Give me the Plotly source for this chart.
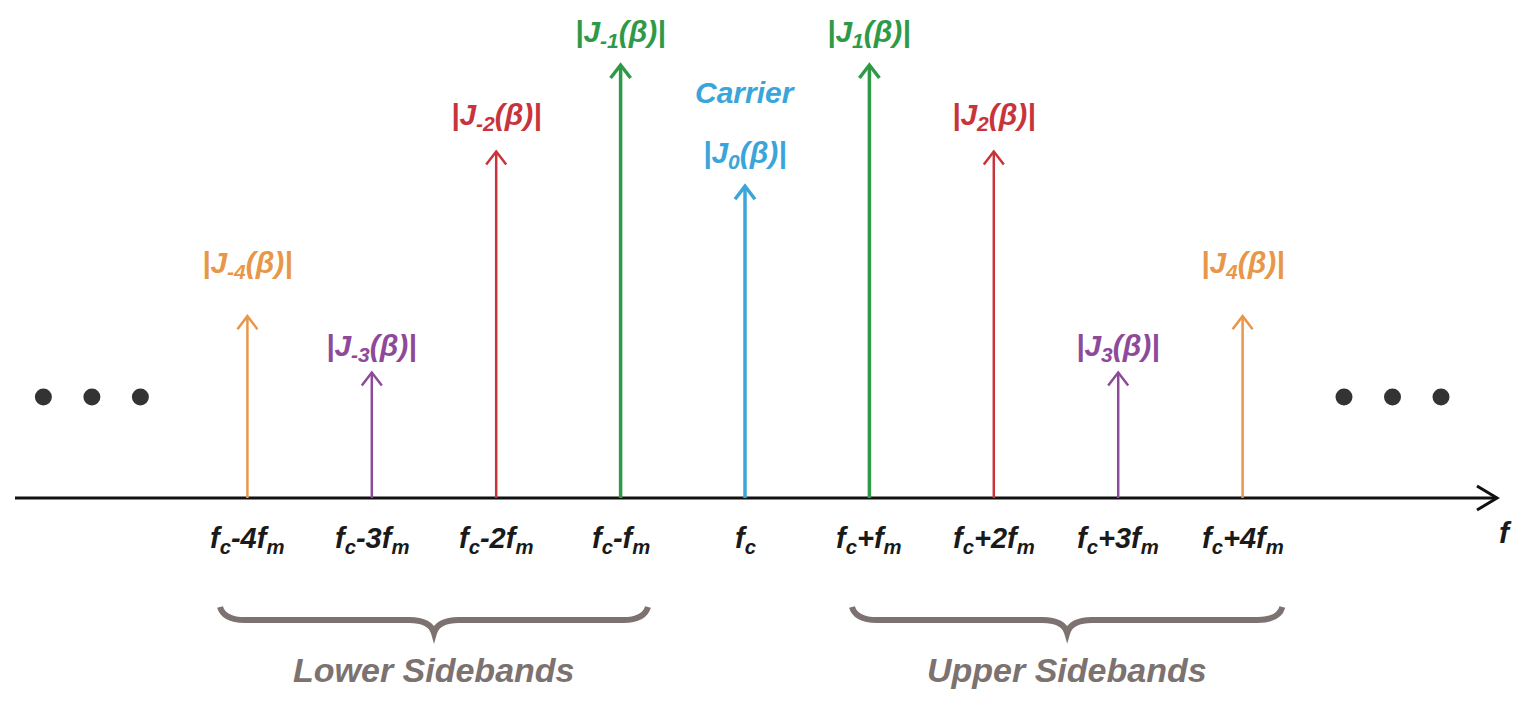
import plotly.graph_objects as go

# ---- data ----
orders = [-4, -3, -2, -1, 0, 1, 2, 3, 4]
amplitudes = [0.42, 0.29, 0.80, 1.0, 0.72, 1.0, 0.80, 0.29, 0.42]
tick_labels = ["f<sub>c</sub>-4f<sub>m</sub>", "f<sub>c</sub>-3f<sub>m</sub>", "f<sub>c</sub>-2f<sub>m</sub>",
               "f<sub>c</sub>-f<sub>m</sub>", "f<sub>c</sub>", "f<sub>c</sub>+f<sub>m</sub>",
               "f<sub>c</sub>+2f<sub>m</sub>", "f<sub>c</sub>+3f<sub>m</sub>", "f<sub>c</sub>+4f<sub>m</sub>"]
bessel_labels = ["|J<sub>-4</sub>(β)|", "|J<sub>-3</sub>(β)|", "|J<sub>-2</sub>(β)|", "|J<sub>-1</sub>(β)|",
                 "|J<sub>0</sub>(β)|", "|J<sub>1</sub>(β)|", "|J<sub>2</sub>(β)|", "|J<sub>3</sub>(β)|",
                 "|J<sub>4</sub>(β)|"]
lower_orders = [-4, -3, -2, -1]
upper_orders = [1, 2, 3, 4]
group_labels = ["Lower Sidebands", "Upper Sidebands"]

# ---- styles ----
color_by_abs = {4: "#E8974A", 3: "#8E4A9A", 2: "#C8343C", 1: "#2E9A48", 0: "#3AA5DA"}
width_by_abs = {4: 2.5, 3: 2.5, 2: 2.5, 1: 3.5, 0: 3.5}
label_shift = {4: 52, 3: 25, 2: 35, 1: 32, 0: 32}
group_pads = [(0.22, 0.22), (0.14, 0.32)]
brace_color = "#7C7270"
FONT = "Liberation Sans, Arial, sans-serif"

W, H = 1516, 698          # page has 8px body margin
PPX, PPY = 124.4, 433.0   # pixels per unit
CX, BY = 737, 490         # figure pixel of order 0 and of baseline
X_RANGE = [-CX / PPX, (W - CX) / PPX]
Y_RANGE = [-(H - BY) / PPY, BY / PPY]

def px_to_x(p):  # page pixel -> data x
    return X_RANGE[0] + (p - 8) / PPX

fig = go.Figure()

# horizontal frequency axis with arrow
ax_x0, ax_x1 = px_to_x(15), px_to_x(1497)
fig.add_trace(go.Scatter(x=[ax_x0, ax_x1], y=[0, 0], mode="lines",
                         line=dict(color="#111111", width=3), hoverinfo="skip", showlegend=False))
hx, hy = 20 / PPX, 12 / PPY
fig.add_trace(go.Scatter(x=[ax_x1 - hx, ax_x1, ax_x1 - hx], y=[hy, 0, -hy], mode="lines",
                         line=dict(color="#111111", width=3), hoverinfo="skip", showlegend=False))

# spectral lines with arrowheads
for k, a, lab, tl in zip(orders, amplitudes, bessel_labels, tick_labels):
    c = color_by_abs[abs(k)]
    w = width_by_abs[abs(k)]
    fig.add_trace(go.Scatter(x=[k, k], y=[0, a], mode="lines", line=dict(color=c, width=w),
                             hoverinfo="skip", showlegend=False))
    dx, dy = 10 / PPX, 13 / PPY
    fig.add_trace(go.Scatter(x=[k - dx, k, k + dx], y=[a - dy, a, a - dy], mode="lines",
                             line=dict(color=c, width=w), hoverinfo="skip", showlegend=False))
    fig.add_annotation(x=k, y=a, text="<b><i>" + lab + "</i></b>", showarrow=False,
                       yanchor="middle", yshift=label_shift[abs(k)],
                       font=dict(family=FONT, size=30, color=c))
    fig.add_annotation(x=k, y=0, text="<b><i>" + tl + "</i></b>",
                       showarrow=False, yanchor="middle", yshift=-42,
                       font=dict(family=FONT, size=29, color="#1a1a1a"))
    if k == 0:
        fig.add_annotation(x=k, y=a, text="<b><i>Carrier</i></b>", showarrow=False,
                           yanchor="middle", yshift=94,
                           font=dict(family=FONT, size=30, color=c))

# ellipsis dots
dot_y = (498 - 397) / PPY
sp = 48.5 / PPX
left_x = [orders[0] - 1.64 + i * sp for i in range(3)]
right_x = [orders[-1] + 0.815 + i * sp for i in range(3)]
fig.add_trace(go.Scatter(x=left_x + right_x, y=[dot_y] * 6, mode="markers",
                         marker=dict(size=17, color="#333333"), hoverinfo="skip", showlegend=False))

# f axis label
fig.add_annotation(x=px_to_x(1505), y=0, text="<b><i>f</i></b>", showarrow=False,
                   yanchor="middle", yshift=-34, font=dict(family=FONT, size=30, color="#1a1a1a"))

# braces
def brace(x0, x1, yt, yh, yb):
    xm = (x0 + x1) / 2
    e = 0.2
    return (f"M{x0},{yt} Q{x0 + 0.03},{yh} {x0 + e},{yh} L{xm - e},{yh} "
            f"Q{xm - 0.03},{yh} {xm},{yb} Q{xm + 0.03},{yh} {xm + e},{yh} "
            f"L{x1 - e},{yh} Q{x1 - 0.03},{yh} {x1},{yt}")

yt, yh, yb = -109 / PPY, -122 / PPY, -135 / PPY
for grp, name, pads in zip([lower_orders, upper_orders], group_labels, group_pads):
    x0, x1 = min(grp) - pads[0], max(grp) + pads[1]
    fig.add_shape(type="path", path=brace(x0, x1, yt, yh, yb), xref="x", yref="y",
                  line=dict(color=brace_color, width=6))
    fig.add_annotation(x=(x0 + x1) / 2, y=yh, text="<b><i>" + name + "</i></b>", showarrow=False,
                       yanchor="middle", yshift=-50, font=dict(family=FONT, size=34, color=brace_color))

fig.update_layout(
    width=W, height=H, margin=dict(l=0, r=0, t=0, b=0),
    plot_bgcolor="white", paper_bgcolor="white",
    xaxis=dict(range=X_RANGE, visible=False, fixedrange=True),
    yaxis=dict(range=Y_RANGE, visible=False, fixedrange=True),
)
fig.write_html("out.html")
